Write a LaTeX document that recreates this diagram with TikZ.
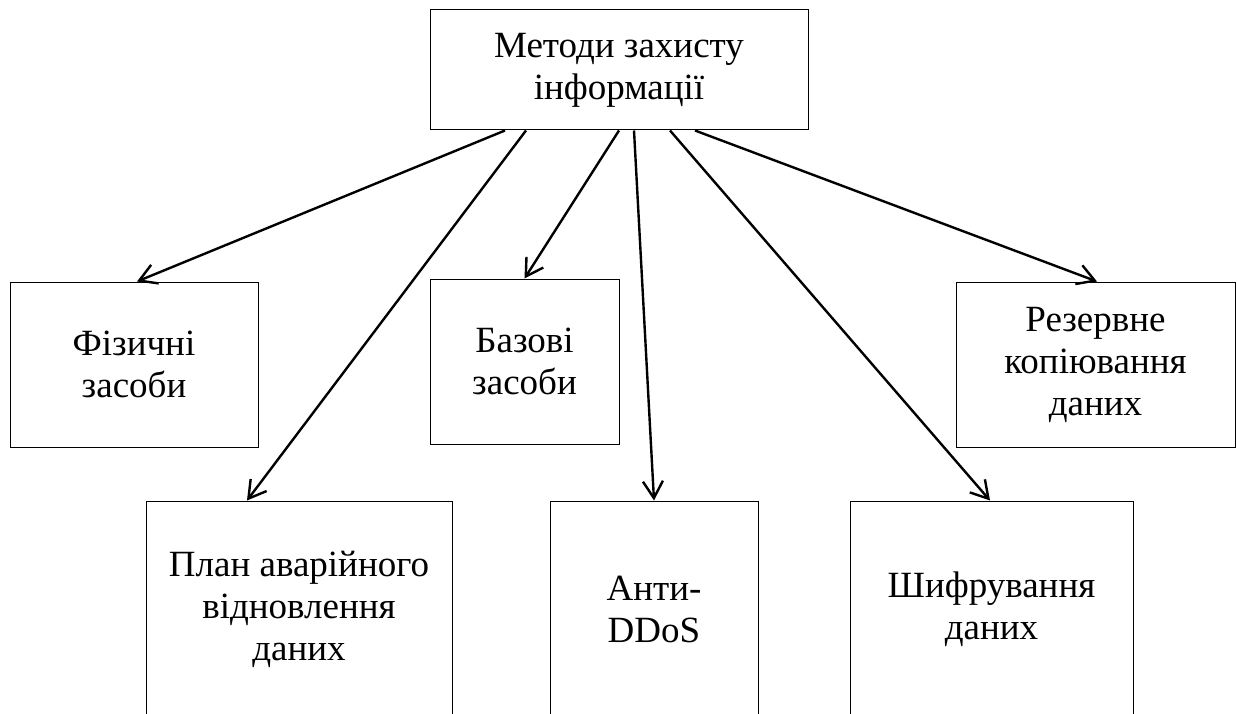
\documentclass[tikz,border=0pt]{standalone}
\usepackage{fontspec}
\setmainfont{Liberation Serif}
\usetikzlibrary{arrows.meta}
\begin{document}
\begin{tikzpicture}[x=1pt,y=-1pt,
  box/.style={draw, line width=1pt, inner sep=0pt, align=center,
    font=\fontsize{37}{42}\selectfont},
  arr/.style={line width=2.4pt, -{Straight Barb[length=17pt,width=20pt,line width=2.4pt]}}]
\useasboundingbox (0,0) rectangle (1237,714);
\clip (0,0) rectangle (1237,714);
\node[box, minimum width=378pt, minimum height=120pt] (top) at (619,70) {Методи захисту\\інформації};
\node[box, minimum width=248pt, minimum height=165pt] (phys) at (134,364.5) {Фізичні\\засоби};
\node[box, minimum width=189pt, minimum height=165pt] (base) at (524.5,361.5) {Базові\\засоби};
\node[box, minimum width=279pt, minimum height=165pt] (rez) at (1095.5,364.5) {Резервне\\копіювання\\даних};
\node[box, minimum width=306pt, minimum height=216pt] (plan) at (299,609) {План аварійного\\відновлення\\даних};
\node[box, minimum width=208pt, minimum height=216pt] (anti) at (654,609) {Анти-\\DDoS};
\node[box, minimum width=283pt, minimum height=216pt] (shif) at (991.5,609) {Шифрування\\даних};
\draw[arr] ([xshift=-114pt]top.south) -- ([xshift=3pt]phys.north);
\draw[arr] ([xshift=-93pt]top.south) -- ([xshift=-52pt]plan.north);
\draw[arr] (top.south) -- (base.north);
\draw[arr] ([xshift=15pt]top.south) -- (anti.north);
\draw[arr] ([xshift=51pt]top.south) -- ([xshift=-1.5pt]shif.north);
\draw[arr] ([xshift=76pt]top.south) -- ([xshift=1.5pt]rez.north);
\end{tikzpicture}
\end{document}
